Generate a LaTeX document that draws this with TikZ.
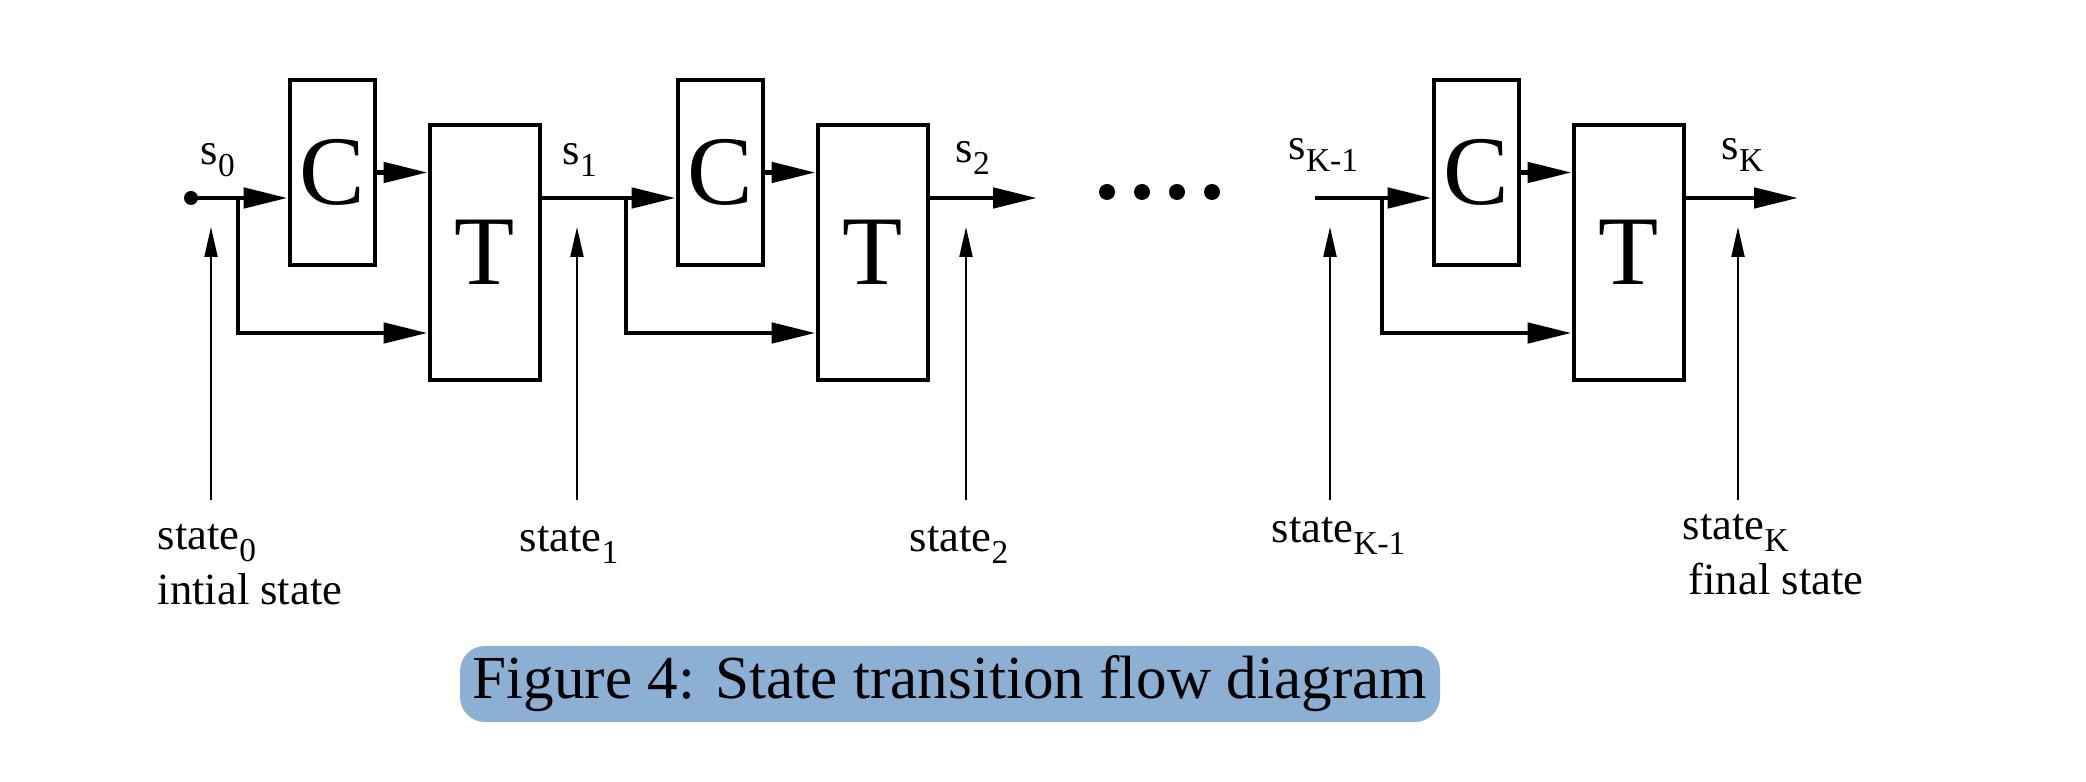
\documentclass[tikz,border=0pt]{standalone}
\usepackage{fontspec}
\setmainfont{Liberation Serif}
\usepackage{tikz}
\usetikzlibrary{positioning, arrows.meta, calc}

\definecolor{capblue}{RGB}{139,176,212}
\newcommand{\lowsub}[1]{\raisebox{-3.3pt}{\fontsize{9.5}{11}\selectfont #1}}

\begin{document}
\begin{tikzpicture}[>=Stealth,
  blockc/.style={draw, line width=1.4pt, minimum width=0.85cm, minimum height=1.85cm,
    inner sep=0pt, font=\fontsize{28}{30}\selectfont},
  blockt/.style={draw, line width=1.4pt, minimum width=1.10cm, minimum height=2.55cm,
    inner sep=0pt, font=\fontsize{28}{30}\selectfont},
  wire/.style={line width=1.4pt},
  flow/.style={line width=1.4pt, -{Triangle[length=0.44cm, width=0.2cm]}},
  probe/.style={line width=0.6pt, -{Triangle[length=0.30cm, width=0.13cm]}},
  lab/.style={font=\fontsize{12.7}{15}\selectfont, inner sep=0pt}]

\useasboundingbox (0,0) rectangle (20.86,7.82);

% --- Rows ---
\coordinate (main) at (0,5.84);
\coordinate (low) at (0,4.49);

% --- Stages: C block, T block, branch ---
\foreach \i/\x in {1/2.90, 2/6.78, 3/14.34} {
  \node[blockc] (c\i) at (\x+0.425, 6.095) {C};
  \node[blockt] (t\i) at (\x+1.95, 5.295) {T};
  \coordinate (b\i) at (\x-0.52, 5.84);
  \draw[flow] (b\i) -- (b\i -| c\i.west);
  \draw[flow] (c\i.east) -- (c\i.east -| t\i.west);
  \draw[flow] (b\i) |- (t\i.west |- low);
}

% --- Inputs ---
\coordinate (s0) at (1.91,5.84);
\fill (s0) circle (0.07);
\draw[wire] (s0) -- (b1);
\draw[wire] (t1.east |- main) -- (b2);
\coordinate (sk1) at (13.15,5.84);
\draw[wire] (sk1) -- (b3);

% --- Outputs ---
\coordinate (o2) at (10.37,5.84);
\coordinate (o3) at (17.98,5.84);
\draw[flow] (t2.east |- main) -- (o2);
\draw[flow] (t3.east |- main) -- (o3);

% --- Dots ---
\foreach \x in {11.07, 11.42, 11.77, 12.12} {
  \fill (\x, 5.90) circle (0.08);
}

% --- Signal labels ---
\node[lab, anchor=base west] (ls0) at (2.00,6.17) {s\lowsub{0}};
\node[lab, anchor=base west] (ls1) at (5.62,6.17) {s\lowsub{1}};
\node[lab, anchor=base west] (ls2) at (9.55,6.19) {s\lowsub{2}};
\node[lab, anchor=base west] (lsk1) at (12.88,6.22) {s\lowsub{K-1}};
\node[lab, anchor=base west] (lsk) at (17.21,6.22) {s\lowsub{K}};

% --- State probes ---
\foreach \n/\x in {0/2.11, 1/5.77, 2/9.66, 3/13.30, 4/17.38} {
  \coordinate (p\n) at (\x,2.82);
  \coordinate (q\n) at (\x,5.55);
  \draw[probe] (p\n) -- (q\n);
}

% --- State labels ---
\node[lab, anchor=base west] (st0) at (1.57,2.32) {state\lowsub{0}};
\node[lab, anchor=base west] (init) at (1.57,1.77) {intial state};
\node[lab, anchor=base west] (st1) at (5.19,2.30) {state\lowsub{1}};
\node[lab, anchor=base west] (st2) at (9.09,2.30) {state\lowsub{2}};
\node[lab, anchor=base west] (stk1) at (12.71,2.39) {state\lowsub{K-1}};
\node[lab, anchor=base west] (stk) at (16.82,2.42) {state\lowsub{K}};
\node[lab, anchor=base west] (final) at (16.88,1.87) {final state};

% --- Caption ---
\node[fill=capblue, rounded corners=0.25cm, minimum width=9.8cm, minimum height=0.76cm,
  inner sep=0pt, font=\fontsize{17.4}{20}\selectfont] (caption) at (9.50,0.98)
  {Figure 4: State transition flow diagram};

\end{tikzpicture}
\end{document}
